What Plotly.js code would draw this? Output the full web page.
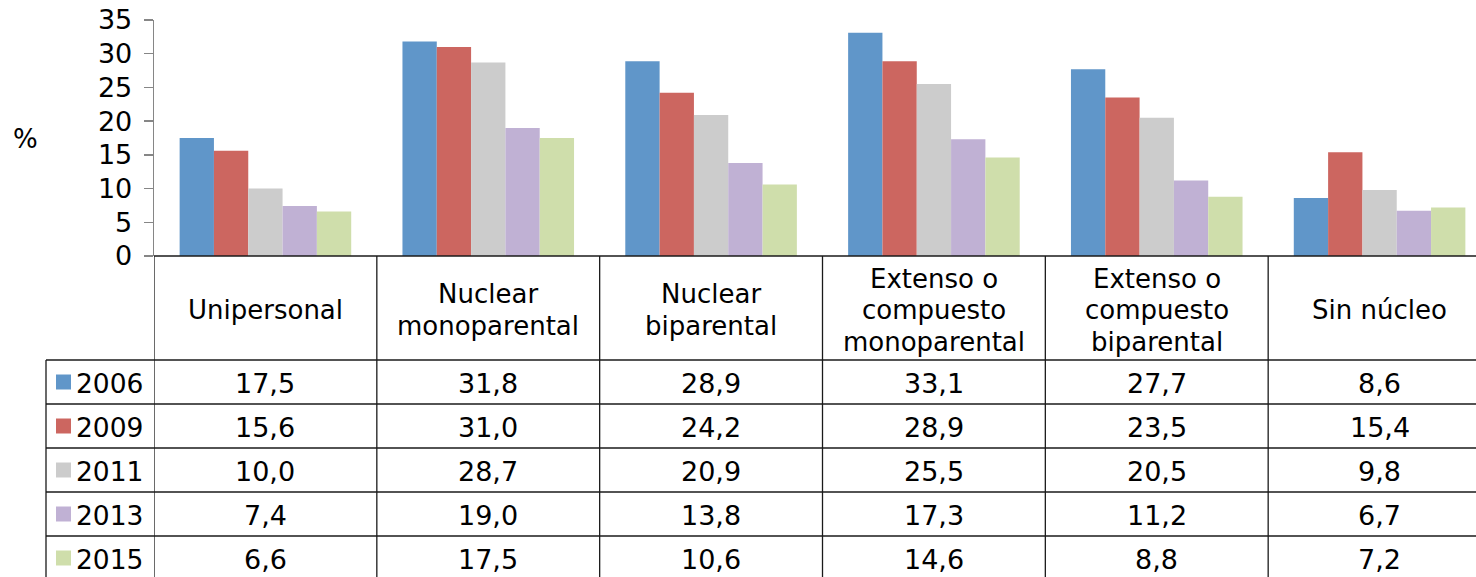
<!DOCTYPE html>
<html>
<head>
<meta charset="utf-8">
<script src="https://cdn.plot.ly/plotly-3.0.1.min.js"></script>
<style>
html,body{margin:0;padding:0;overflow:hidden;background:#fff;}
#chart{width:1492px;height:577px;}
</style>
</head>
<body>
<div id="chart"></div>
<script>
const categories = ["Unipersonal", "Nuclear<br>monoparental", "Nuclear<br>biparental",
  "Extenso o<br>compuesto<br>monoparental", "Extenso o<br>compuesto<br>biparental", "Sin núcleo"];
const years = ["2006", "2009", "2011", "2013", "2015"];
const v2006 = [17.5, 31.8, 28.9, 33.1, 27.7, 8.6];
const v2009 = [15.6, 31.0, 24.2, 28.9, 23.5, 15.4];
const v2011 = [10.0, 28.7, 20.9, 25.5, 20.5, 9.8];
const v2013 = [7.4, 19.0, 13.8, 17.3, 11.2, 6.7];
const v2015 = [6.6, 17.5, 10.6, 14.6, 8.8, 7.2];
const series = [v2006, v2009, v2011, v2013, v2015];
const colors = ["#6096C9", "#CC6660", "#CCCCCC", "#C0B1D4", "#CFDEAB"];
const yTicks = [0, 5, 10, 15, 20, 25, 30, 35];

const W = 1492, H = 577, ML = 154, MR = 1, MT = 20, MB = 321;
const plotW = W - ML - MR, plotH = H - MT - MB;
const FONT = "Verdana, 'DejaVu Sans', sans-serif";
const FS_HEAD = 26, FS_VAL = 27, FS_YEAR = 26.5;
// pixel -> paper
const px = p => (p - ML) / plotW;
const py = p => (H - MB - p) / plotH;

const xIdx = categories.map((c, i) => i);
const traces = series.map((vals, k) => ({
  type: "bar", name: years[k], x: xIdx, y: vals,
  marker: {color: colors[k], line: {width: 0}},
  hoverinfo: "skip"
}));

const lineStyle = {color: "#1a1a1a", width: 1.3};
const shapes = [];
const annotations = [];
const axisY = H - MB;          // 256
const headerBottom = 360;
const rowH = 44;
const lineGap = 31.5;
const nCat = categories.length;

// vertical lines of the table (category boundaries)
for (let i = 0; i <= nCat; i++) {
  shapes.push({type: "line", xref: "x", yref: "paper", x0: i - 0.5, x1: i - 0.5,
    y0: py(axisY), y1: py(H + 10), line: lineStyle});
}
// left column border
shapes.push({type: "line", xref: "paper", yref: "paper", x0: px(46), x1: px(46),
  y0: py(headerBottom), y1: py(H + 10), line: lineStyle});
// horizontal lines
shapes.push({type: "line", xref: "paper", yref: "paper", x0: 0, x1: 1,
  y0: py(axisY), y1: py(axisY), line: lineStyle});
for (let r = 0; r <= years.length; r++) {
  const yy = headerBottom + r * rowH;
  shapes.push({type: "line", xref: "paper", yref: "paper", x0: px(46), x1: 1,
    y0: py(yy), y1: py(yy), line: lineStyle});
}
// category headers, one annotation per line for tight line spacing
categories.forEach((c, i) => {
  const lines = c.split("<br>");
  const mid = (axisY + headerBottom) / 2 + 2;
  lines.forEach((ln, j) => {
    const cy = mid + (j - (lines.length - 1) / 2) * lineGap;
    annotations.push({xref: "x", yref: "paper", x: i, y: py(cy),
      text: ln, showarrow: false, xanchor: "center", yanchor: "middle",
      font: {family: FONT, size: FS_HEAD, color: "#000"}});
  });
});
// rows
years.forEach((yr, k) => {
  const cy = headerBottom + k * rowH + rowH / 2;
  shapes.push({type: "rect", xref: "paper", yref: "paper", x0: px(56), x1: px(71),
    y0: py(cy - 7.5), y1: py(cy + 7.5), fillcolor: colors[k], line: {width: 0}});
  annotations.push({xref: "paper", yref: "paper", x: px(74), y: py(cy + 1),
    text: yr, showarrow: false, xanchor: "left", yanchor: "middle",
    font: {family: FONT, size: FS_YEAR, color: "#000"}});
  series[k].forEach((v, i) => {
    annotations.push({xref: "x", yref: "paper", x: i, y: py(cy + 1),
      text: v.toFixed(1).replace(".", ","), showarrow: false, xanchor: "center", yanchor: "middle",
      font: {family: FONT, size: FS_VAL, color: "#000"}});
  });
});
// % label
annotations.push({xref: "paper", yref: "paper", x: px(11), y: py(139), text: "%",
  showarrow: false, xanchor: "left", yanchor: "middle",
  font: {family: FONT, size: 26, color: "#000"}});

const layout = {
  width: W, height: H,
  margin: {l: ML, r: MR, t: MT, b: MB, pad: 0},
  paper_bgcolor: "#fff", plot_bgcolor: "#fff",
  barmode: "group", bargap: 0.23, bargroupgap: 0,
  showlegend: false,
  font: {family: FONT, color: "#000"},
  xaxis: {
    type: "linear", range: [-0.5, nCat - 0.5], showticklabels: false,
    showgrid: false, zeroline: false, showline: false, ticks: "", fixedrange: true
  },
  yaxis: {
    range: [0, 35], tickvals: yTicks, ticktext: yTicks.map(String),
    showgrid: false, zeroline: false, showline: true, linecolor: "#868686", linewidth: 1.3,
    ticks: "outside", ticklen: 9, tickcolor: "#868686", tickwidth: 1.3,
    ticklabelstandoff: 6,
    tickfont: {family: FONT, size: 27, color: "#000"}, fixedrange: true
  },
  shapes: shapes,
  annotations: annotations
};

Plotly.newPlot("chart", traces, layout, {displayModeBar: false, staticPlot: true});
</script>
</body>
</html>
